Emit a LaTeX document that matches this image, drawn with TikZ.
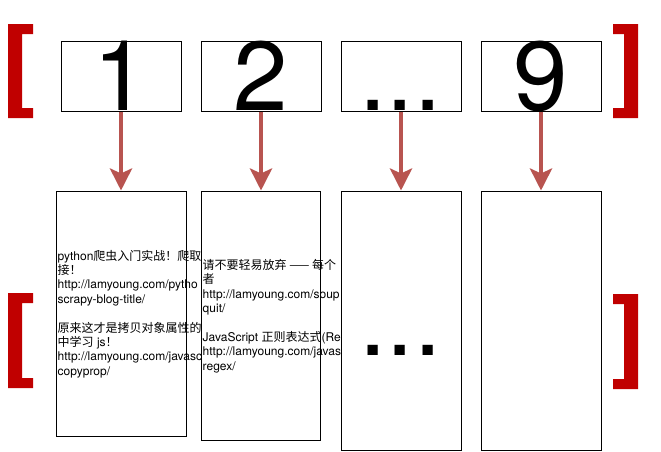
\documentclass[tikz,border=0pt]{standalone}
\usepackage{fontspec}
\setmainfont{TeX Gyre Heros}
\newfontfamily\cjk{Noto Sans CJK SC}
\usetikzlibrary{arrows.meta}
\definecolor{brk}{HTML}{C00000}
\definecolor{arrc}{HTML}{B85450}
\tikzset{
  box/.style={draw=black, line width=1pt, fill=white, inner sep=0pt, anchor=north west},
  topbox/.style={box, minimum width=120pt, minimum height=70pt},
  big/.style={inner sep=0pt, anchor=base, font=\fontsize{98}{98}\selectfont},
  small/.style={inner sep=0pt, anchor=west, align=left, font=\fontsize{12}{14.4}\selectfont},
  arr/.style={draw=arrc, line width=4.5pt, -{Stealth[length=22pt,width=22pt,inset=5pt,fill=arrc]}},
  bracketfill/.style={fill=brk, draw=none}
}
\begin{document}
\begin{tikzpicture}[x=1pt,y=-1pt]
\useasboundingbox[fill=white] (0,0) rectangle (661,451);
% brackets
\foreach \by/\bh in {24/94, 293/95}{
  \fill[bracketfill] (8,\by) -- ++(25,0) -- ++(0,10) -- ++(-11,0) -- ++(0,\bh-20) -- ++(11,0) -- ++(0,10) -- ++(-25,0) -- cycle;
}
\foreach \by/\bh in {24/94, 294/95}{
  \fill[bracketfill] (638,\by) -- ++(-25,0) -- ++(0,10) -- ++(11,0) -- ++(0,\bh-20) -- ++(-11,0) -- ++(0,10) -- ++(25,0) -- cycle;
}
% top boxes
\node[topbox] (t1) at (60.5,40.5) {};
\node[topbox] (t2) at (200.5,40.5) {};
\node[topbox] (t3) at (340.5,40.5) {};
\node[topbox] (t4) at (480.5,40.5) {};
\node[big] (d1) at (120.5,110.5) {1};
\node[big] (d2) at (260.5,110.5) {2};
\node[big] (d3) at (400.5,110.5) {...};
\node[big] (d4) at (540.5,110.5) {9};
% bottom boxes and texts (each box covers the overflow of the text before it)
\node[box, minimum width=130pt, minimum height=245pt] (b1) at (55.5,190.5) {};
\node[small] (s1) at (57.5,314) {python{\cjk 爬虫入门实战！爬取}\\
{\cjk 接！}\\
http://lamyoung.com/pytho\\
scrapy-blog-title/\\[14.4pt]
{\cjk 原来这才是拷贝对象属性的}\\
{\cjk 中学习} js{\cjk ！}\\
http://lamyoung.com/javasc\\
copyprop/};
\node[box, minimum width=119pt, minimum height=249.5pt] (b2) at (201,190.5) {};
\node[small] (s2) at (202.5,316) {{\cjk 请不要轻易放弃 —— 每个}\\
{\cjk 者}\\
http://lamyoung.com/soup\\
quit/\\[14.4pt]
JavaScript {\cjk 正则表达式}(Re\\
http://lamyoung.com/javas\\
regex/};
\node[box, minimum width=120pt, minimum height=259.5pt] (b3) at (340.5,190.5) {};
\node[big] (d5) at (400.5,355.5) {...};
\node[box, minimum width=120pt, minimum height=259.5pt] (b4) at (480.5,190.5) {};
% arrows
\draw[arr] (t1.south) -- (b1.north -| t1.south);
\draw[arr] (t2.south) -- (b2.north -| t2.south);
\draw[arr] (t3.south) -- (b3.north);
\draw[arr] (t4.south) -- (b4.north);
\end{tikzpicture}
\end{document}
